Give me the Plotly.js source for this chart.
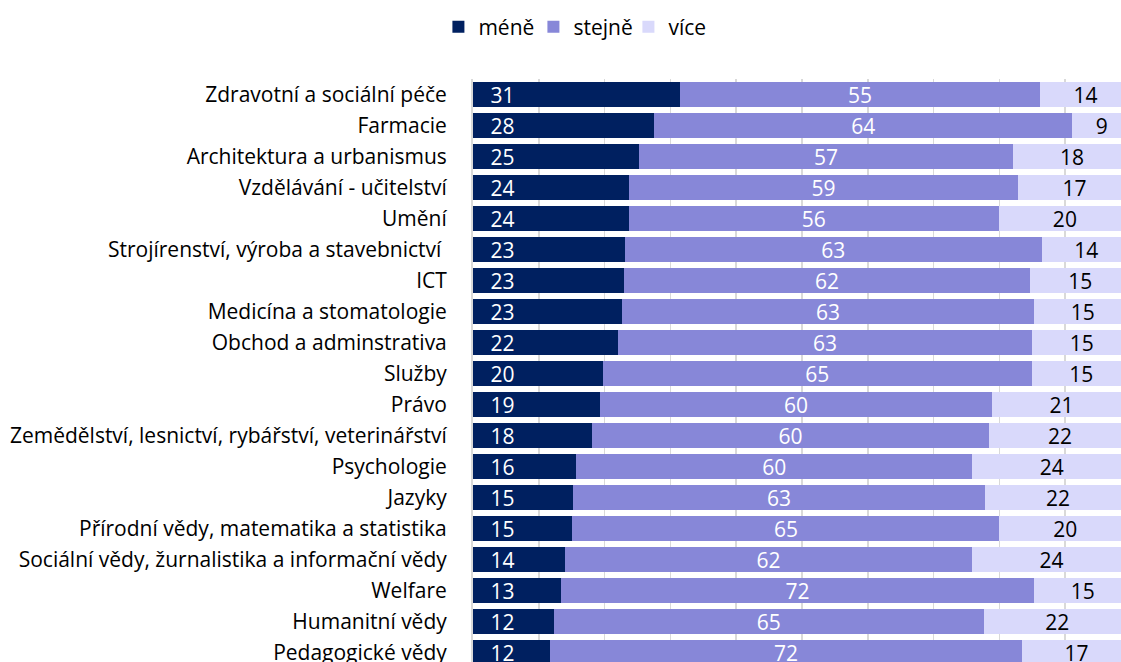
<!DOCTYPE html>
<html>
<head>
<meta charset="utf-8">
<script src="https://cdn.plot.ly/plotly-3.0.1.min.js"></script>
<style>
html, body { margin: 0; padding: 0; overflow: hidden; background: #fff; }
#chart { width: 1132px; height: 670px; }
</style>
</head>
<body>
<div id="chart"></div>
<script>
const categories = [
  "Zdravotní a sociální péče",
  "Farmacie",
  "Architektura a urbanismus",
  "Vzdělávání - učitelství",
  "Umění",
  "Strojírenství, výroba a stavebnictví ",
  "ICT",
  "Medicína a stomatologie",
  "Obchod a adminstrativa",
  "Služby",
  "Právo",
  "Zemědělství, lesnictví, rybářství, veterinářství",
  "Psychologie",
  "Jazyky",
  "Přírodní vědy, matematika a statistika",
  "Sociální vědy, žurnalistika a informační vědy",
  "Welfare",
  "Humanitní vědy",
  "Pedagogické vědy"
];
const mene   = [31.4, 27.5, 25.2, 23.7, 23.7, 23.1, 23.0, 22.6, 22.0, 19.7, 19.3, 18.1, 15.7, 15.2, 15.1, 14.0, 13.3, 12.3, 11.7];
const stejne = [54.8, 63.6, 56.9, 59.1, 56.2, 63.3, 61.6, 62.7, 63.0, 65.2, 59.6, 60.3, 60.2, 62.6, 64.9, 61.8, 72.0, 65.3, 71.7];
const vice   = [13.8,  8.9, 17.9, 17.2, 20.1, 13.6, 15.4, 14.7, 15.0, 15.1, 21.1, 21.6, 24.1, 22.2, 20.0, 24.2, 14.7, 22.4, 16.6];
const seriesNames = ["méně", "stejně", "více"];

const FONT = "'Open Sans', sans-serif";
const FS = 21;
const PAD = "\u00a0\u00a0\u2009";

const common = {
  type: "bar", orientation: "h", y: categories,
  textposition: "inside", textangle: 0, constraintext: "none", hoverinfo: "skip"
};

const traces = [
  Object.assign({}, common, {
    name: seriesNames[0], x: mene,
    marker: { color: "#002060" },
    texttemplate: PAD + "%{x:.0f}",
    insidetextanchor: "start",
    textfont: { color: "#ffffff", size: FS, family: FONT }
  }),
  Object.assign({}, common, {
    name: seriesNames[1], x: stejne,
    marker: { color: "#8787d8" },
    texttemplate: "%{x:.0f}",
    insidetextanchor: "middle",
    textfont: { color: "#ffffff", size: FS, family: FONT }
  }),
  Object.assign({}, common, {
    name: seriesNames[2], x: vice,
    marker: { color: "#d9d9fb" },
    texttemplate: "%{x:.0f}",
    insidetextanchor: "middle",
    textfont: { color: "#000000", size: FS, family: FONT }
  })
];

const layout = {
  width: 1132, height: 670,
  margin: { l: 473, r: 1, t: 79, b: 2, pad: 0 },
  barmode: "stack",
  bargap: 0.167,
  paper_bgcolor: "#ffffff",
  plot_bgcolor: "#ffffff",
  font: { family: FONT, size: FS, color: "#000000" },
  showlegend: true,
  legend: {
    orientation: "h", x: 0.164, xanchor: "center", y: 1.088, yanchor: "middle",
    font: { size: FS, family: FONT, color: "#000000" },
    traceorder: "normal", itemwidth: 30, entrywidth: 50, entrywidthmode: "pixels"
  },
  xaxis: {
    range: [0, 100], dtick: 10, tick0: 0,
    showgrid: true, gridcolor: "#d9d9d9", gridwidth: 1.5,
    zeroline: false, showticklabels: false, ticks: "", fixedrange: true
  },
  yaxis: {
    autorange: "reversed", type: "category",
    showline: true, linecolor: "#d9d9d9", linewidth: 2,
    ticks: "", ticklabelstandoff: 20,
    tickfont: { size: FS, family: FONT, color: "#000000" },
    showgrid: false, zeroline: false, fixedrange: true
  }
};

Plotly.newPlot("chart", traces, layout, { displayModeBar: false, staticPlot: true });
</script>
</body>
</html>
